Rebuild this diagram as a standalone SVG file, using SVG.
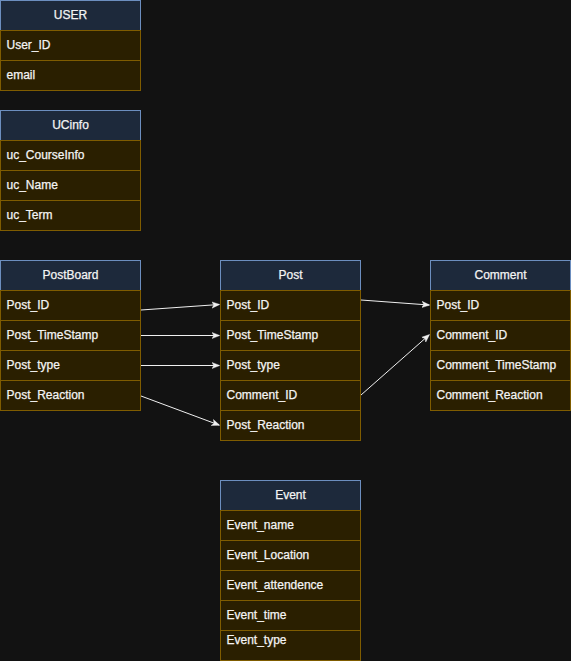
<svg xmlns="http://www.w3.org/2000/svg" width="571" height="661" viewBox="0 0 571 661">
<defs>
<style>
.hd{fill:#1d293b;stroke:#6c8ebf;stroke-width:1}
.rw{fill:#2a1f00;stroke:#7f5c00;stroke-width:1}
text{font-family:"Liberation Sans",Arial,sans-serif;font-size:12px;fill:#f4f4f4;stroke:#f4f4f4;stroke-width:0.25}
.ht{text-anchor:middle}
.cn{fill:none;stroke:#f0f0f0;stroke-width:1}
</style>
<marker id="ar" viewBox="0 0 10 10" refX="9" refY="5" markerWidth="8" markerHeight="8" markerUnits="userSpaceOnUse" orient="auto">
<path d="M0,1 L10,5 L0,9 L2.5,5 Z" fill="#f0f0f0" stroke="#f0f0f0" stroke-width="0.5"/>
</marker>
</defs>
<rect width="571" height="661" fill="#121212"/>

<g id="USER">
<rect class="hd" x="0.5" y="0.5" width="140" height="30"/>
<text class="ht" x="70.5" y="18.5">USER</text>
<rect class="rw" x="0.5" y="30.5" width="140" height="30"/>
<text x="6.5" y="48.5">User_ID</text>
<rect class="rw" x="0.5" y="60.5" width="140" height="30"/>
<text x="6.5" y="78.5">email</text>
</g>

<g id="UCinfo">
<rect class="hd" x="0.5" y="110.5" width="140" height="30"/>
<text class="ht" x="70.5" y="128.5">UCinfo</text>
<rect class="rw" x="0.5" y="140.5" width="140" height="30"/>
<text x="6.5" y="158.5">uc_CourseInfo</text>
<rect class="rw" x="0.5" y="170.5" width="140" height="30"/>
<text x="6.5" y="188.5">uc_Name</text>
<rect class="rw" x="0.5" y="200.5" width="140" height="30"/>
<text x="6.5" y="218.5">uc_Term</text>
</g>

<g id="PostBoard">
<rect class="hd" x="0.5" y="260.5" width="140" height="30"/>
<text class="ht" x="70.5" y="278.5">PostBoard</text>
<rect class="rw" x="0.5" y="290.5" width="140" height="30"/>
<text x="6.5" y="308.5">Post_ID</text>
<rect class="rw" x="0.5" y="320.5" width="140" height="30"/>
<text x="6.5" y="338.5">Post_TimeStamp</text>
<rect class="rw" x="0.5" y="350.5" width="140" height="30"/>
<text x="6.5" y="368.5">Post_type</text>
<rect class="rw" x="0.5" y="380.5" width="140" height="30"/>
<text x="6.5" y="398.5">Post_Reaction</text>
</g>

<g id="Post">
<rect class="hd" x="220.5" y="260.5" width="140" height="30"/>
<text class="ht" x="290.5" y="278.5">Post</text>
<rect class="rw" x="220.5" y="290.5" width="140" height="30"/>
<text x="226.5" y="308.5">Post_ID</text>
<rect class="rw" x="220.5" y="320.5" width="140" height="30"/>
<text x="226.5" y="338.5">Post_TimeStamp</text>
<rect class="rw" x="220.5" y="350.5" width="140" height="30"/>
<text x="226.5" y="368.5">Post_type</text>
<rect class="rw" x="220.5" y="380.5" width="140" height="30"/>
<text x="226.5" y="398.5">Comment_ID</text>
<rect class="rw" x="220.5" y="410.5" width="140" height="30"/>
<text x="226.5" y="428.5">Post_Reaction</text>
</g>

<g id="Comment">
<rect class="hd" x="430.5" y="260.5" width="140" height="30"/>
<text class="ht" x="500.5" y="278.5">Comment</text>
<rect class="rw" x="430.5" y="290.5" width="140" height="30"/>
<text x="436.5" y="308.5">Post_ID</text>
<rect class="rw" x="430.5" y="320.5" width="140" height="30"/>
<text x="436.5" y="338.5">Comment_ID</text>
<rect class="rw" x="430.5" y="350.5" width="140" height="30"/>
<text x="436.5" y="368.5">Comment_TimeStamp</text>
<rect class="rw" x="430.5" y="380.5" width="140" height="30"/>
<text x="436.5" y="398.5">Comment_Reaction</text>
</g>

<g id="Event">
<rect class="hd" x="220.5" y="480.5" width="140" height="30"/>
<text class="ht" x="290.5" y="498.5">Event</text>
<rect class="rw" x="220.5" y="510.5" width="140" height="30"/>
<text x="226.5" y="528.5">Event_name</text>
<rect class="rw" x="220.5" y="540.5" width="140" height="30"/>
<text x="226.5" y="558.5">Event_Location</text>
<rect class="rw" x="220.5" y="570.5" width="140" height="30"/>
<text x="226.5" y="588.5">Event_attendence</text>
<rect class="rw" x="220.5" y="600.5" width="140" height="30"/>
<text x="226.5" y="618.5">Event_time</text>
<rect class="rw" x="220.5" y="630.5" width="140" height="30"/>
<text x="226.5" y="643.5">Event_type</text>
</g>

<g id="connectors">
<line class="cn" x1="141" y1="310" x2="219" y2="304.5" marker-end="url(#ar)"/>
<line class="cn" x1="141" y1="335.5" x2="219" y2="335.5" marker-end="url(#ar)"/>
<line class="cn" x1="141" y1="365.5" x2="219" y2="365.5" marker-end="url(#ar)"/>
<line class="cn" x1="141" y1="396" x2="219" y2="425" marker-end="url(#ar)"/>
<line class="cn" x1="361" y1="300" x2="429" y2="305" marker-end="url(#ar)"/>
<line class="cn" x1="361" y1="395" x2="429" y2="335" marker-end="url(#ar)"/>
</g>
</svg>
